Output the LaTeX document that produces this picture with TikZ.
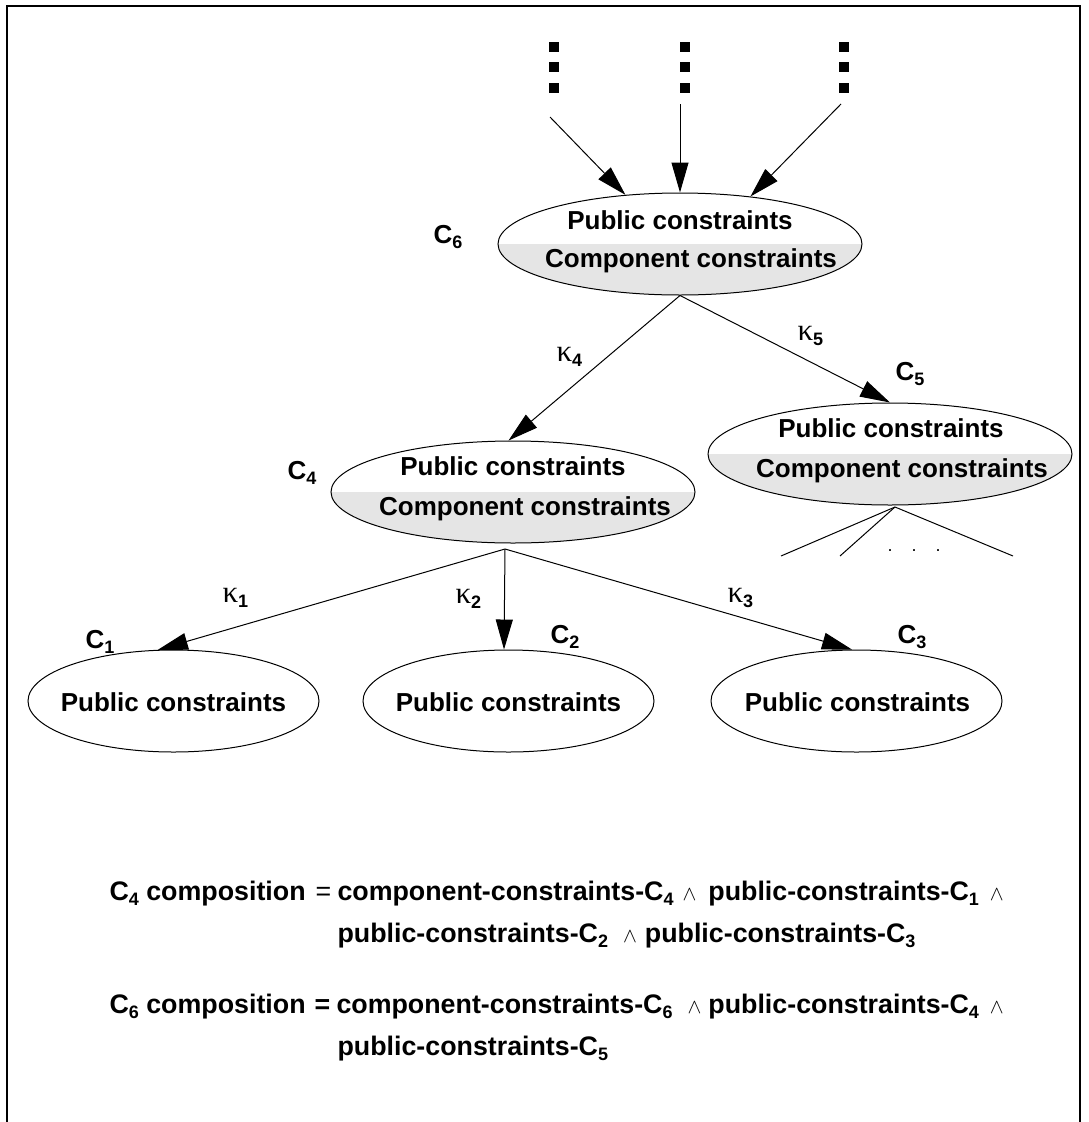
\documentclass[tikz,border=0pt]{standalone}
\usepackage{fontspec}
\setmainfont{Liberation Sans}
\newfontfamily\kapfont{Liberation Serif}
\usetikzlibrary{arrows.meta,shapes.geometric}

\newcommand{\lowidx}[1]{\raisebox{-5pt}{\fontsize{18}{18}\selectfont #1}}
\newcommand{\kap}[1]{{\kapfont\mdseries\fontsize{31}{31}\selectfont κ}\lowidx{#1}}
\newcommand{\andsym}{{\fontsize{20}{20}\selectfont$\wedge$}}

\begin{document}
\begin{tikzpicture}[x=1pt,y=-1pt,line width=1pt,
    every node/.style={font=\fontsize{26}{30}\selectfont\bfseries,inner sep=0pt},
    blob/.style={draw,ellipse,minimum width=364pt,minimum height=102pt},
    leaf/.style={draw,ellipse,minimum width=291pt,minimum height=102pt},
    split/.style={path picture={\fill[black!10] (path picture bounding box.west)
      rectangle (path picture bounding box.south east);}},
    txt/.style={anchor=base},
    tag/.style={anchor=base west},
    formula/.style={anchor=base west,font=\fontsize{26.8}{30}\selectfont\bfseries},
    >={Triangle[length=30pt,width=17pt]}]
  \useasboundingbox (0,0) rectangle (1088,1122);
  \draw[line width=1.3pt] (7,1122) -- (7,6) -- (1080,6) -- (1080,1122);

  % vertical dots above the top component
  \foreach \x in {554,685,844}
    \foreach \y in {47,67,88}
      \fill (\x-5,\y-5) rectangle (\x+5,\y+5);
  \coordinate (in1) at (550,117);
  \coordinate (in2) at (680,104);
  \coordinate (in3) at (841,104);

  \node[blob,split] (C6) at (680,244) {};
  \node[blob,split] (C4) at (513,492) {};
  \node[blob,split] (C5) at (890,454) {};
  \node[leaf] (C1) at (173.5,701) {};
  \node[leaf] (C2) at (508.5,701) {};
  \node[leaf] (C3) at (856.5,701) {};

  \node[txt] (C6p) at (680,229) {Public constraints};
  \node[txt] (C6c) at (691,267) {Component constraints};
  \node[txt] (C4p) at (513,475) {Public constraints};
  \node[txt] (C4c) at (525,515) {Component constraints};
  \node[txt] (C5p) at (891,437) {Public constraints};
  \node[txt] (C5c) at (902,477) {Component constraints};
  \node[txt] (C1p) at (173.5,711) {Public constraints};
  \node[txt] (C2p) at (508.5,711) {Public constraints};
  \node[txt] (C3p) at (857.5,711) {Public constraints};

  \node[tag] (C6n) at (433,243) {C\lowidx{6}};
  \node[tag] (C4n) at (287,479) {C\lowidx{4}};
  \node[tag] (C5n) at (895,380) {C\lowidx{5}};
  \node[tag] (C1n) at (85,648) {C\lowidx{1}};
  \node[tag] (C2n) at (550,643) {C\lowidx{2}};
  \node[tag] (C3n) at (897,643) {C\lowidx{3}};

  \node[tag] (k4) at (556,361) {\kap{4}};
  \node[tag] (k5) at (797,340) {\kap{5}};
  \node[tag] (k1) at (222,602) {\kap{1}};
  \node[tag] (k2) at (455,603) {\kap{2}};
  \node[tag] (k3) at (727,602) {\kap{3}};

  \coordinate (c4out) at (505,549);
  \coordinate (c5out) at (895,507);
  \coordinate (s1) at (781,556);
  \coordinate (s2) at (840,556);
  \coordinate (s3) at (1013,556);
  \node[txt,font=\fontsize{18}{18}\selectfont] (more) at (914,551)
    {.\hspace{19pt}.\hspace{19pt}.};

  \path[->]
    (in1) edge (C6.138)
    (in2) edge (C6.north)
    (in3) edge (C6.34)
    (C6.south) edge (C4.95)
    (C6.south) edge (C5.north)
    (c4out) edge (C1.107)
    (c4out) edge (C2.95)
    (c4out) edge (C3.95);
  \path (c5out) edge (s1)
    (c5out) edge (s2)
    (c5out) edge (s3);

  % compositions
  \node[formula] (eq4) at (109,900) {C\lowidx{4} composition\hspace{10pt}{\mdseries =}};
  \node[formula] (rhs4a) at (337,900) {component-constraints-C\lowidx{4}\hspace{9pt}\andsym\hspace{12pt}public-constraints-C\lowidx{1}\hspace{11pt}\andsym};
  \node[formula] (rhs4b) at (337,942) {public-constraints-C\lowidx{2}\hspace{15pt}\andsym\hspace{8pt}public-constraints-C\lowidx{3}};
  \node[formula] (eq6) at (109,1013) {C\lowidx{6} composition\hspace{9pt}=};
  \node[formula] (rhs6a) at (336,1013) {component-constraints-C\lowidx{6}\hspace{15pt}\andsym\hspace{7pt}public-constraints-C\lowidx{4}\hspace{11pt}\andsym};
  \node[formula] (rhs6b) at (337,1055) {public-constraints-C\lowidx{5}};
\end{tikzpicture}
\end{document}
